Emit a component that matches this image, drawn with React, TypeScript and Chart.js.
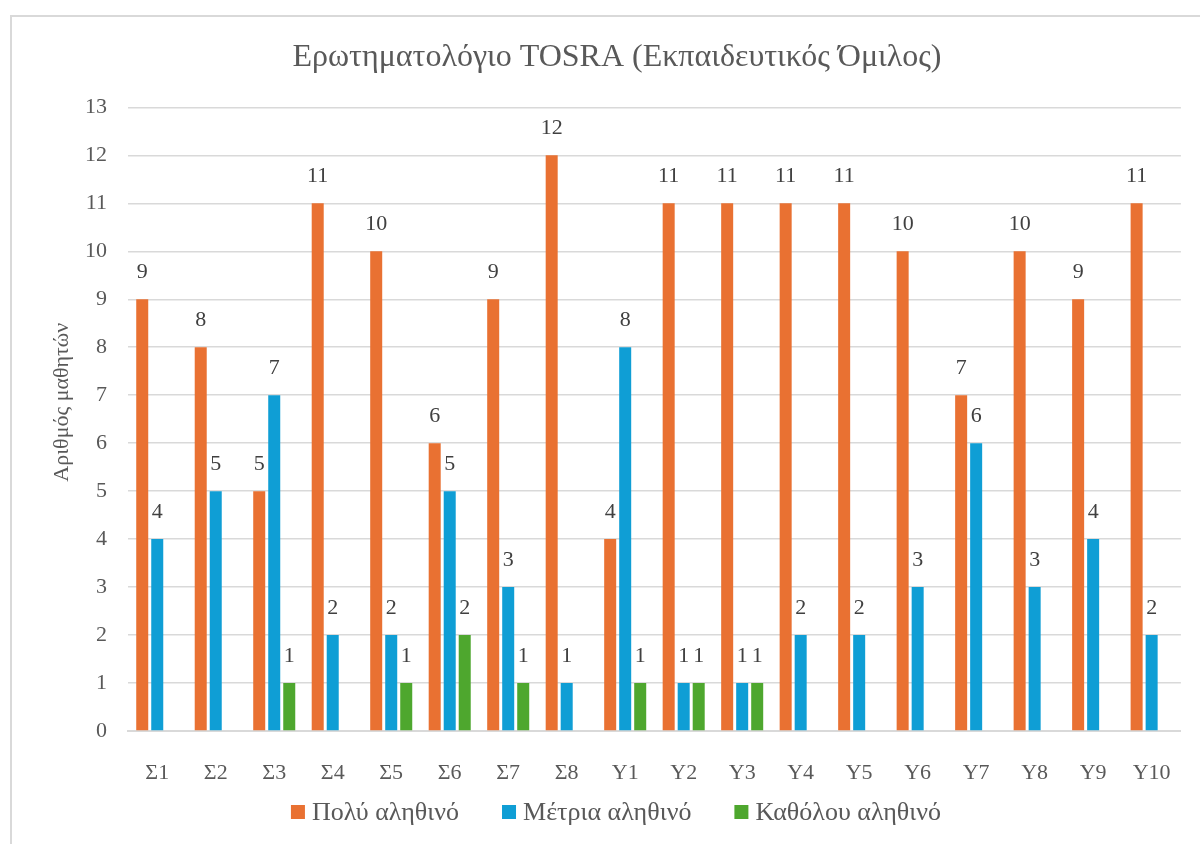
import React, { useEffect, useRef } from "react";
import { Chart, registerables } from "chart.js";

Chart.register(...registerables);

const categories = ["Σ1", "Σ2", "Σ3", "Σ4", "Σ5", "Σ6", "Σ7", "Σ8", "Υ1", "Υ2", "Υ3", "Υ4", "Υ5", "Υ6", "Υ7", "Υ8", "Υ9", "Υ10"];
const polu = [9, 8, 5, 11, 10, 6, 9, 12, 4, 11, 11, 11, 11, 10, 7, 10, 9, 11];
const metria = [4, 5, 7, 2, 2, 5, 3, 1, 8, 1, 1, 2, 2, 3, 6, 3, 4, 2];
const katholou = [0, 0, 1, 0, 1, 2, 1, 0, 1, 1, 1, 0, 0, 0, 0, 0, 0, 0];
const seriesNames = ["Πολύ αληθινό", "Μέτρια αληθινό", "Καθόλου αληθινό"];
const seriesColors = ["#E97132", "#0F9ED5", "#4EA72E"];
const yTicks = [0, 1, 2, 3, 4, 5, 6, 7, 8, 9, 10, 11, 12, 13];
const yTitle = "Αριθμός μαθητών";

const FONT = "'Liberation Serif', 'DejaVu Serif', serif";
const TEXT = "#595959";

const labelPlugin = {
  id: "valueLabels",
  afterDatasetsDraw(chart: any) {
    const ctx = chart.ctx;
    ctx.save();
    ctx.font = `22px ${FONT}`;
    ctx.fillStyle = "#404040";
    ctx.textAlign = "center";
    ctx.textBaseline = "middle";
    chart.data.datasets.forEach((ds: any, i: number) => {
      const meta = chart.getDatasetMeta(i);
      meta.data.forEach((el: any, j: number) => {
        const v = ds.data[j];
        if (v > 0) ctx.fillText(String(v), el.x, el.y - 27);
      });
    });
    ctx.restore();
  },
};

const yTitlePlugin = {
  id: "yTitle",
  afterDraw(chart: any) {
    const ctx = chart.ctx;
    const area = chart.chartArea;
    ctx.save();
    ctx.font = `22px ${FONT}`;
    ctx.fillStyle = TEXT;
    ctx.textAlign = "center";
    ctx.textBaseline = "middle";
    ctx.translate(62, (area.top + area.bottom) / 2 - 17);
    ctx.rotate(-Math.PI / 2);
    ctx.fillText(yTitle, 0, 0);
    ctx.restore();
  },
};

const legendPlugin = {
  id: "customLegend",
  afterDraw(chart: any) {
    const ctx = chart.ctx;
    const box = 14;
    const boxGap = 7;
    const itemGap = 43;
    const cy = 812;
    ctx.save();
    ctx.font = `26px ${FONT}`;
    const items = chart.data.datasets.map((ds: any) => ({
      text: ds.label,
      color: ds.backgroundColor,
      w: ctx.measureText(ds.label).width,
    }));
    const total = items.reduce((s: number, it: any) => s + box + boxGap + it.w, 0) + itemGap * (items.length - 1);
    let x = 616 - total / 2;
    ctx.textBaseline = "middle";
    ctx.textAlign = "left";
    items.forEach((it: any) => {
      ctx.fillStyle = it.color;
      ctx.fillRect(x, cy - box / 2, box, box);
      x += box + boxGap;
      ctx.fillStyle = TEXT;
      ctx.fillText(it.text, x, cy + 1);
      x += it.w + itemGap;
    });
    ctx.restore();
  },
};

export default function App() {
  const ref = useRef<HTMLCanvasElement | null>(null);
  useEffect(() => {
    if (!ref.current) return;
    const chart = new Chart(ref.current, {
      type: "bar",
      data: {
        labels: categories,
        datasets: [
          { label: seriesNames[0], data: polu, backgroundColor: seriesColors[0] },
          { label: seriesNames[1], data: metria, backgroundColor: seriesColors[1] },
          { label: seriesNames[2], data: katholou, backgroundColor: seriesColors[2] },
        ],
      },
      options: {
        animation: false,
        responsive: false,
        maintainAspectRatio: false,
        datasets: { bar: { categoryPercentage: 0.77, barPercentage: 0.8 } },
        layout: { padding: { left: 49, right: 15, top: 38, bottom: 58 } },
        plugins: {
          title: {
            display: true,
            text: "Ερωτηματολόγιο TOSRA (Εκπαιδευτικός Όμιλος)",
            color: TEXT,
            font: { family: FONT, size: 32, weight: "normal" },
            padding: { top: 0, bottom: 31 },
          },
          legend: { display: false },
          tooltip: { enabled: false },
        },
        scales: {
          x: {
            grid: { display: false, drawTicks: false },
            border: { display: true, color: "#d9d9d9", width: 2 },
            ticks: { color: TEXT, font: { family: FONT, size: 22 }, padding: 29 },
            afterFit(scale: any) {
              scale.height = 55;
            },
          },
          y: {
            min: 0,
            max: 13,
            afterBuildTicks(scale: any) {
              scale.ticks = yTicks.map((v) => ({ value: v }));
            },
            afterFit(scale: any) {
              scale.width = 79;
            },
            grid: { color: "#d9d9d9", lineWidth: 1.5, drawTicks: false },
            border: { display: false },
            ticks: { color: TEXT, font: { family: FONT, size: 22 }, padding: 21 },
          },
        },
      },
      plugins: [labelPlugin, yTitlePlugin, legendPlugin],
    });
    return () => chart.destroy();
  }, []);
  return (
    <div style={{ position: "absolute", left: 0, top: 0, width: 1200, height: 844, overflow: "hidden", background: "#fff" }}>
      <div style={{ position: "absolute", left: 10, top: 15, width: 1300, height: 1000, border: "2px solid #d9d9d9" }} />
      <canvas ref={ref} width={1200} height={844} style={{ position: "absolute", left: 0, top: 0 }} />
    </div>
  );
}
